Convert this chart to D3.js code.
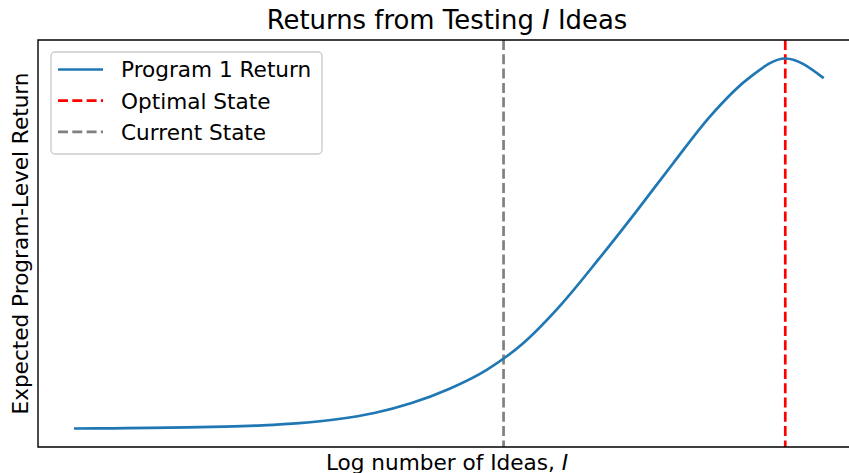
<!DOCTYPE html>
<html>
<head>
<meta charset="utf-8">
<script src="https://cdn.jsdelivr.net/npm/d3@7"></script>
<style>
  body { margin: 0; background: #fff; }
  svg { display: block; font-family: "DejaVu Sans", sans-serif; }
</style>
</head>
<body>
<svg id="chart" width="849" height="473"></svg>
<script>
// Log number of ideas (x) and expected return (y)
var logIdeas = [0, 0.5, 1, 1.5, 2, 2.5, 3, 3.5, 4, 4.5, 5, 5.5, 6, 6.5, 7, 7.5, 8, 8.5, 9, 9.5, 10];
var programReturn = [0, 0.0005, 0.0015, 0.003, 0.005, 0.0085, 0.0145, 0.025, 0.042, 0.069, 0.107,
                     0.158, 0.232, 0.335, 0.457, 0.585, 0.717, 0.845, 0.945, 1.0, 0.949];

// Vertical markers
var markers = [
  { label: 'Optimal State', x: 9.5, color: '#ff0000' },
  { label: 'Current State', x: 5.73, color: '#808080' }
];

var legendItems = [
  { label: 'Program 1 Return', color: '#1f77b4', dashed: false },
  { label: 'Optimal State', color: '#ff0000', dashed: true },
  { label: 'Current State', color: '#808080', dashed: true }
];

var svg = d3.select('#chart');
// plot box (window.top is reserved, so prefix these)
var plotLeft = 38, plotRight = 860, plotTop = 40, plotBottom = 447;
var fontSize = 21.6;

var x = d3.scaleLinear().domain([-0.5, 10.5]).range([plotLeft, plotRight]);
var y = d3.scaleLinear().domain([-0.05, 1.05]).range([plotBottom, plotTop]);

// Dashed state lines
svg.append('g').selectAll('line')
  .data(markers)
  .enter().append('line')
    .attr('x1', function(d) { return x(d.x); })
    .attr('x2', function(d) { return x(d.x); })
    .attr('y1', plotTop)
    .attr('y2', plotBottom)
    .attr('stroke', function(d) { return d.color; })
    .attr('stroke-width', 2.7)
    .attr('stroke-dasharray', '10,4.3');

// Return curve
var line = d3.line()
  .x(function(d, i) { return x(logIdeas[i]); })
  .y(function(d) { return y(d); })
  .curve(d3.curveMonotoneX);

svg.append('path')
  .datum(programReturn)
  .attr('d', line)
  .attr('fill', 'none')
  .attr('stroke', '#1f77b4')
  .attr('stroke-width', 2.7)
  .attr('stroke-linecap', 'square');

// Spines (left, top, bottom) - no ticks
svg.append('path')
  .attr('d', 'M' + plotRight + ',' + plotTop + 'H' + plotLeft + 'V' + plotBottom + 'H' + plotRight)
  .attr('fill', 'none')
  .attr('stroke', '#000')
  .attr('stroke-width', 1.4);

// Title with italic I
var title = svg.append('text')
  .attr('x', (plotLeft + 856) / 2)
  .attr('y', 29)
  .attr('text-anchor', 'middle')
  .attr('font-size', 25.9);
title.append('tspan').text('Returns from Testing ');
title.append('tspan').attr('font-style', 'italic').text('I');
title.append('tspan').text(' Ideas');

// X label
var xLabel = svg.append('text')
  .attr('x', (plotLeft + 856) / 2)
  .attr('y', 470)
  .attr('text-anchor', 'middle')
  .attr('font-size', fontSize);
xLabel.append('tspan').text('Log number of Ideas, ');
xLabel.append('tspan').attr('font-style', 'italic').text('I');

// Y label
svg.append('text')
  .attr('transform', 'translate(28,' + ((plotTop + plotBottom) / 2) + ') rotate(-90)')
  .attr('text-anchor', 'middle')
  .attr('font-size', fontSize)
  .text('Expected Program-Level Return');

// Legend
var legend = svg.append('g');
legend.append('rect')
  .attr('x', 51).attr('y', 52)
  .attr('width', 271).attr('height', 102)
  .attr('rx', 4).attr('ry', 4)
  .attr('fill', '#fff').attr('fill-opacity', 0.8)
  .attr('stroke', '#cccccc').attr('stroke-width', 1.4);

var rows = legend.selectAll('g.row')
  .data(legendItems)
  .enter().append('g')
    .attr('class', 'row')
    .attr('transform', function(d, i) { return 'translate(0,' + (69.5 + i * 31.2) + ')'; });

rows.append('line')
  .attr('x1', 58).attr('x2', 103)
  .attr('y1', 0).attr('y2', 0)
  .attr('stroke', function(d) { return d.color; })
  .attr('stroke-width', 2.7)
  .attr('stroke-dasharray', function(d) { return d.dashed ? '10,4.3' : null; });

rows.append('text')
  .attr('x', 121)
  .attr('y', 7.8)
  .attr('font-size', fontSize)
  .text(function(d) { return d.label; });
</script>
</body>
</html>
